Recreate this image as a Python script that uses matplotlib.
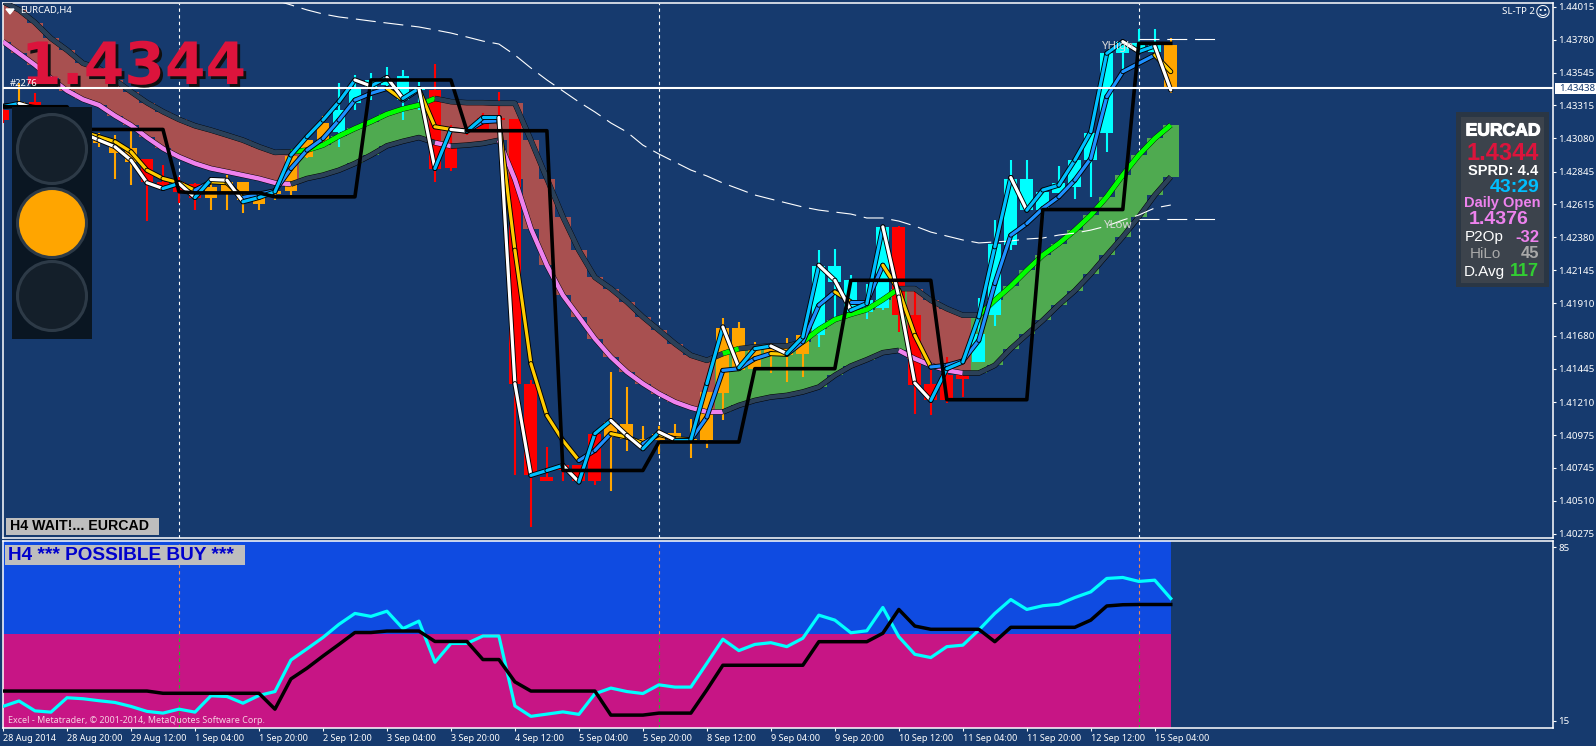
import numpy as np
import matplotlib
matplotlib.use("Agg")
import matplotlib.pyplot as plt
import matplotlib.patheffects as pe
from matplotlib.patches import Circle, Rectangle, Polygon

plt.rcParams["font.family"] = ["Noto Sans", "DejaVu Sans"]

# --- candles: high, low, body top, body bottom, colour code ---
high = [1.43300, 1.43471, 1.43400, 1.43250, 1.43210, 1.43170, 1.43116, 1.43104, 1.43135, 1.42931,
        1.42891, 1.42808, 1.42766, 1.42784, 1.42820, 1.42773, 1.42702, 1.42702, 1.42957, 1.43104,
        1.43239, 1.43471, 1.43530, 1.43547, 1.43589, 1.43566, 1.43483, 1.43608, 1.43175, 1.43163,
        1.43260, 1.43407, 1.43215, 1.41364, 1.40891, 1.40761, 1.40761, 1.40986, 1.41424, 1.41317,
        1.41044, 1.41044, 1.41052, 1.41092, 1.41282, 1.41809, 1.41779, 1.41637, 1.41632, 1.41667,
        1.41684, 1.42292, 1.42299, 1.42110, 1.42051, 1.42458, 1.42458, 1.42015, 1.41435, 1.41530,
        1.41400, 1.41950, 1.42500, 1.42926, 1.42926, 1.42730, 1.42884, 1.42926, 1.43120, 1.43684,
        1.43779, 1.43860, 1.43854, 1.43790]
low = [1.43190, 1.43258, 1.43150, 1.43100, 1.43050, 1.43000, 1.43021, 1.42796, 1.42749, 1.42495,
       1.42737, 1.42623, 1.42576, 1.42576, 1.42571, 1.42548, 1.42576, 1.42647, 1.42678, 1.42938,
       1.43057, 1.43021, 1.43281, 1.43352, 1.43430, 1.43210, 1.43281, 1.42773, 1.42851, 1.43104,
       1.43130, 1.43128, 1.40690, 1.40323, 1.40650, 1.40650, 1.40650, 1.40619, 1.40579, 1.40863,
       1.40879, 1.40844, 1.40938, 1.40813, 1.40884, 1.41080, 1.41440, 1.41435, 1.41417, 1.41353,
       1.41388, 1.41601, 1.41790, 1.41826, 1.41802, 1.41861, 1.41708, 1.41128, 1.41116, 1.41203,
       1.41246, 1.41494, 1.41748, 1.42287, 1.42571, 1.42520, 1.42690, 1.42654, 1.42666, 1.42986,
       1.43565, 1.43680, 1.43684, 1.43400]
body_top = [1.43281, 1.43340, 1.43341, 1.43220, 1.43180, 1.43140, 1.43097, 1.43045, 1.43009, 1.42931,
            1.42773, 1.42773, 1.42756, 1.42737, 1.42773, 1.42773, 1.42678, 1.42709, 1.42957, 1.43068,
            1.43187, 1.43281, 1.43428, 1.43495, 1.43495, 1.43523, 1.43447, 1.43424, 1.43026, 1.43140,
            1.43222, 1.43222, 1.43215, 1.41336, 1.40678, 1.40761, 1.40761, 1.40986, 1.41069, 1.41057,
            1.40950, 1.40986, 1.40990, 1.40950, 1.41282, 1.41738, 1.41738, 1.41578, 1.41590, 1.41613,
            1.41684, 1.42176, 1.42176, 1.42075, 1.41932, 1.42453, 1.42453, 1.41826, 1.41341, 1.41400,
            1.41400, 1.41696, 1.42330, 1.42796, 1.42792, 1.42702, 1.42761, 1.42926, 1.43120, 1.43684,
            1.43767, 1.43755, 1.43743, 1.43743]
body_bot = [1.43211, 1.43280, 1.43200, 1.43130, 1.43090, 1.43060, 1.43045, 1.42974, 1.42914, 1.42773,
            1.42749, 1.42702, 1.42661, 1.42657, 1.42690, 1.42647, 1.42614, 1.42685, 1.42709, 1.42950,
            1.43057, 1.43128, 1.43329, 1.43428, 1.43460, 1.43353, 1.43424, 1.42867, 1.42874, 1.43127,
            1.43139, 1.43210, 1.41341, 1.40690, 1.40650, 1.40725, 1.40650, 1.40650, 1.40962, 1.40950,
            1.40915, 1.40938, 1.40943, 1.40938, 1.40943, 1.41275, 1.41440, 1.41447, 1.41542, 1.41542,
            1.41554, 1.41684, 1.42063, 1.41850, 1.41850, 1.41880, 1.41826, 1.41329, 1.41227, 1.41227,
            1.41377, 1.41494, 1.41826, 1.42323, 1.42571, 1.42571, 1.42690, 1.42737, 1.42926, 1.43120,
            1.43684, 1.43708, 1.43696, 1.43436]
candle_codes = "ror" + "oooooo" + "rrrr" + "oooooooo" + "cccccc" + "r" * 11 + "o" * 13 + "ccccc" + "rrrrr" + "c" * 12 + "o"

# --- cloud between the two averages ---
band_top = [1.44051, 1.43992, 1.43902, 1.43790, 1.43707, 1.43613, 1.43577, 1.43494, 1.43412, 1.43334,
            1.43270, 1.43215, 1.43170, 1.43139, 1.43104, 1.43068, 1.43021, 1.42981, 1.42985, 1.42997,
            1.43033, 1.43097, 1.43151, 1.43199, 1.43253, 1.43290, 1.43317, 1.43364, 1.43341, 1.43334,
            1.43334, 1.43329, 1.43329, 1.43068, 1.42796, 1.42524, 1.42287, 1.42095, 1.42015, 1.41921,
            1.41814, 1.41720, 1.41625, 1.41542, 1.41506, 1.41554, 1.41589, 1.41601, 1.41608, 1.41608,
            1.41637, 1.41725, 1.41795, 1.41833, 1.41866, 1.41937, 1.42015, 1.42015, 1.41932, 1.41873,
            1.41826, 1.41826, 1.41932, 1.42032, 1.42145, 1.42252, 1.42335, 1.42429, 1.42536, 1.42666,
            1.42820, 1.42962, 1.43080, 1.43175]
band_bot = [1.43767, 1.43684, 1.43601, 1.43506, 1.43419, 1.43357, 1.43317, 1.43241, 1.43175, 1.43087,
            1.43009, 1.42950, 1.42903, 1.42867, 1.42844, 1.42820, 1.42796, 1.42765, 1.42756, 1.42796,
            1.42820, 1.42855, 1.42903, 1.42962, 1.43028, 1.43060, 1.43087, 1.43050, 1.43026, 1.43033,
            1.43045, 1.43068, 1.42790, 1.42441, 1.42181, 1.41968, 1.41815, 1.41660, 1.41530, 1.41424,
            1.41341, 1.41270, 1.41211, 1.41170, 1.41140, 1.41140, 1.41187, 1.41222, 1.41246, 1.41258,
            1.41282, 1.41317, 1.41400, 1.41466, 1.41511, 1.41561, 1.41577, 1.41518, 1.41471, 1.41435,
            1.41416, 1.41416, 1.41471, 1.41589, 1.41690, 1.41790, 1.41900, 1.42000, 1.42120, 1.42252,
            1.42382, 1.42524, 1.42678, 1.42808]
band_trend = "d" * 19 + "u" * 8 + "d" * 18 + "u" * 12 + "dddd" + "u" * 13
top_segments = [(0, 18, "#2B4058"), (18, 27, "#00FF00"), (27, 45, "#2B4058"), (45, 46, "#00FF00"),
                (46, 50, "#2B4058"), (50, 56, "#00FF00"), (56, 61, "#2B4058"), (61, 73, "#00FF00")]
bot_segments = [(0, 18, "#EE82EE"), (18, 27, "#2B4058"), (27, 28, "#EE82EE"), (28, 31, "#2B4058"),
                (31, 45, "#EE82EE"), (45, 56, "#2B4058"), (56, 60, "#EE82EE"), (60, 73, "#2B4058")]

# --- moving averages ---
fast_ma = [1.43305, 1.43329, 1.43293, 1.43250, 1.43180, 1.43116, 1.43068, 1.43021, 1.42926, 1.42766,
           1.42725, 1.42761, 1.42661, 1.42789, 1.42784, 1.42631, 1.42661, 1.42702, 1.42962, 1.43092,
           1.43210, 1.43341, 1.43495, 1.43452, 1.43513, 1.43364, 1.43435, 1.42867, 1.43144, 1.43132,
           1.43229, 1.43229, 1.41341, 1.40690, 1.40725, 1.40761, 1.40643, 1.40986, 1.41080, 1.40974,
           1.40879, 1.40998, 1.40943, 1.40943, 1.41341, 1.41743, 1.41454, 1.41589, 1.41608, 1.41554,
           1.41672, 1.42181, 1.42074, 1.41861, 1.41909, 1.42453, 1.41956, 1.41345, 1.41222, 1.41447,
           1.41495, 1.41814, 1.42311, 1.42803, 1.42571, 1.42714, 1.42749, 1.42926, 1.43128, 1.43684,
           1.43767, 1.43696, 1.43736, 1.43424]
slow_ma = [1.43310, 1.43317, 1.43300, 1.43270, 1.43230, 1.43127, 1.43092, 1.43057, 1.42986, 1.42855,
           1.42796, 1.42766, 1.42713, 1.42773, 1.42766, 1.42661, 1.42685, 1.42709, 1.42867, 1.42997,
           1.43080, 1.43210, 1.43352, 1.43400, 1.43435, 1.43353, 1.43428, 1.43163, 1.43144, 1.43132,
           1.43199, 1.43206, 1.42288, 1.41483, 1.41116, 1.40938, 1.40796, 1.40867, 1.40986, 1.40962,
           1.40915, 1.40981, 1.40950, 1.40943, 1.41104, 1.41435, 1.41447, 1.41518, 1.41554, 1.41549,
           1.41637, 1.41897, 1.41992, 1.41921, 1.41921, 1.42181, 1.42003, 1.41684, 1.41459, 1.41471,
           1.41502, 1.41648, 1.42051, 1.42394, 1.42477, 1.42583, 1.42666, 1.42784, 1.42938, 1.43376,
           1.43554, 1.43613, 1.43672, 1.43554]
step_line = [1.43305, 1.43305, 1.43305, 1.43305, 1.43305, 1.43144, 1.43144, 1.43144, 1.43144, 1.43144,
             1.43144, 1.42702, 1.42694, 1.42694, 1.42694, 1.42694, 1.42694, 1.42666, 1.42666, 1.42666,
             1.42666, 1.42666, 1.42666, 1.43495, 1.43495, 1.43495, 1.43495, 1.43495, 1.43495, 1.43135,
             1.43135, 1.43135, 1.43135, 1.43135, 1.43135, 1.40725, 1.40725, 1.40725, 1.40725, 1.40725,
             1.40725, 1.40927, 1.40927, 1.40927, 1.40927, 1.40927, 1.40927, 1.41447, 1.41447, 1.41447,
             1.41447, 1.41447, 1.41447, 1.42074, 1.42074, 1.42074, 1.42074, 1.42074, 1.42074, 1.41227,
             1.41227, 1.41227, 1.41227, 1.41227, 1.41227, 1.42576, 1.42576, 1.42576, 1.42576, 1.42576,
             1.42576, 1.43755, 1.43755, 1.43755]
long_ma_start = 17
long_ma = [1.44062, 1.44027, 1.43992, 1.43963, 1.43942, 1.43928, 1.43913, 1.43899, 1.43885, 1.43871,
           1.43850, 1.43828, 1.43800, 1.43771, 1.43750, 1.43672, 1.43580, 1.43495, 1.43417, 1.43339,
           1.43268, 1.43190, 1.43126, 1.43033, 1.42970, 1.42913, 1.42856, 1.42814, 1.42764, 1.42722,
           1.42679, 1.42650, 1.42622, 1.42594, 1.42572, 1.42558, 1.42544, 1.42516, 1.42516, 1.42494,
           1.42459, 1.42416, 1.42388, 1.42360, 1.42339, 1.42346, 1.42353, 1.42367, 1.42374, 1.42395,
           1.42409, 1.42430, 1.42459, 1.42501, 1.42537, 1.42587, 1.42608]

# --- lower pane ---
rsi_line = [20.8, 23.0, 19.0, 18.5, 24.3, 23.9, 23.1, 22.4, 20.8, 18.8, 18.1, 19.7, 18.5, 25.1, 24.8, 22.1,
            25.2, 26.8, 39.5, 44.0, 48.6, 53.9, 58.3, 57.1, 59.2, 52.2, 55.2, 38.6, 46.2, 46.2, 49.2, 49.2,
            21.0, 16.8, 17.7, 18.6, 17.6, 25.9, 28.2, 26.8, 26.0, 29.5, 28.6, 28.6, 38.2, 47.9, 43.3, 45.8,
            46.5, 44.9, 48.3, 57.6, 55.6, 50.5, 51.3, 60.7, 48.9, 41.8, 40.5, 44.9, 45.5, 51.6, 58.3, 63.9,
            59.9, 61.4, 62.0, 64.7, 67.0, 72.4, 72.8, 71.2, 71.7, 64.3]
signal_line = [27.0, 27.0, 27.0, 27.0, 27.0, 27.0, 27.0, 27.0, 27.0, 27.0, 26.1, 26.1, 26.1, 26.1, 26.1, 26.1,
               26.1, 19.7, 31.9, 36.2, 41.1, 45.8, 50.6, 50.6, 51.2, 51.2, 51.2, 47.0, 47.0, 47.0, 39.7, 39.7,
               30.7, 27.0, 27.0, 27.0, 27.0, 27.0, 17.3, 17.3, 17.3, 18.1, 18.1, 18.1, 27.5, 37.4, 37.4, 37.4,
               37.4, 37.4, 37.4, 46.9, 46.9, 46.9, 46.9, 50.3, 59.9, 53.2, 51.9, 51.9, 51.9, 51.9, 46.9, 52.7,
               52.7, 52.7, 52.7, 52.7, 55.6, 61.3, 61.8, 61.9, 61.9, 61.9]

price_ticks = [1.44015, 1.43780, 1.43545, 1.43315, 1.43080, 1.42845, 1.42615, 1.42380, 1.42145,
               1.41910, 1.41680, 1.41445, 1.41210, 1.40975, 1.40745, 1.40510, 1.40275]
time_ticks = list(range(0, 73, 4))
time_labels = ["28 Aug 2014", "28 Aug 20:00", "29 Aug 12:00", "1 Sep 04:00", "1 Sep 20:00", "2 Sep 12:00",
               "3 Sep 04:00", "3 Sep 20:00", "4 Sep 12:00", "5 Sep 04:00", "5 Sep 20:00", "8 Sep 12:00",
               "9 Sep 04:00", "9 Sep 20:00", "10 Sep 12:00", "11 Sep 04:00", "11 Sep 20:00", "12 Sep 12:00",
               "15 Sep 04:00"]
day_lines = [11, 41, 71]
last_price = 1.43438
yhigh = 1.43783
ylow = 1.42512

W, H = 1596, 746
BG = "#163A6E"
colors = {"o": "#FFA500", "r": "#FF0000", "c": "#00FFFF"}
idx = np.arange(74)


def pane(left, top, right, bottom):
    return fig.add_axes([left / W, 1 - bottom / H, (right - left) / W, (bottom - top) / H], facecolor=BG)


fig = plt.figure(figsize=(W / 100, H / 100), dpi=100, facecolor=BG)

ax = pane(3, 3, 1553, 538)
ax2 = pane(3, 541, 1553, 728)

x_max = (1553 - 2.7) / 16
for a in (ax, ax2):
    a.set_xlim(0, x_max)
    a.yaxis.tick_right()
    for s in a.spines.values():
        s.set_color("white")
        s.set_linewidth(1.1)
    a.tick_params(axis="y", colors="white", length=2.5, width=0.8, labelsize=7, pad=1.5)
    a.tick_params(axis="x", colors="white", length=2.5, width=0.8, labelsize=6.5, pad=2)

ax.set_ylim(1.40246, 1.44041)
ax2.set_ylim(12.1, 87.5)

# vertical day separators sit behind everything
ax.vlines(day_lines, 1.40246, 1.44041, colors="white", linewidth=0.8, linestyles=(0, (3, 3)), zorder=1)

# cloud
for trend, col in (("d", "#A85050"), ("u", "#4FAA50")):
    sel = [i for i in idx if band_trend[i] == trend]
    ax.bar(sel, [band_top[i] - band_bot[i] for i in sel], bottom=[band_bot[i] for i in sel],
           width=1.0, color=col, linewidth=0, zorder=2)

# candles
ax.vlines(idx, low, high, colors=[colors[c] for c in candle_codes], linewidth=1.5, zorder=3)
ax.bar(idx, np.array(body_top) - np.array(body_bot), bottom=body_bot, width=0.8,
       color=[colors[c] for c in candle_codes], linewidth=0, zorder=3)

edge = [pe.Stroke(linewidth=3.9, foreground="black"), pe.Normal()]
for a_, b_, col in top_segments:
    ax.plot(idx[a_:b_ + 1], band_top[a_:b_ + 1], color=col, linewidth=3.4, zorder=4,
            path_effects=edge, solid_capstyle="butt")
for a_, b_, col in bot_segments:
    ax.plot(idx[a_:b_ + 1], band_bot[a_:b_ + 1], color=col, linewidth=3.2, zorder=4,
            path_effects=edge, solid_capstyle="butt")

# long average + yearly levels
ax.plot(idx[long_ma_start:], long_ma, color="white", linewidth=0.8, linestyle=(0, (18, 7)), zorder=5)
ax.hlines([yhigh, ylow], 71, 76, colors="white", linewidth=0.8, linestyles=(0, (18, 7)), zorder=5)

# fast / slow averages change colour with direction
outline = [pe.Stroke(linewidth=3.6, foreground="black"), pe.Normal()]
for series, up, down, z in ((slow_ma, "#1E90FF", "#FFCC00", 6), (fast_ma, "#00BFFF", "#FFFFFF", 7)):
    for i in range(73):
        col = up if series[i + 1] >= series[i] else down
        ax.plot(idx[i:i + 2], series[i:i + 2], color=col, linewidth=2.3, zorder=z,
                path_effects=outline, solid_capstyle="round")

ax.plot(idx, step_line, color="black", linewidth=2.6, zorder=8)
ax.axhline(last_price, color="white", linewidth=1.5, zorder=9)

ax.set_xticks([])
ax.set_yticks(price_ticks)
ax.set_yticklabels(["%.5f" % p for p in price_ticks])

# lower pane
ax2.fill_between([0, 73], 50, 87.5, color="#0F4BE1", linewidth=0, zorder=1)
ax2.fill_between([0, 73], 12.1, 50, color="#C71585", linewidth=0, zorder=1)
ax2.vlines(day_lines, 50, 87.5, colors="#F08A50", linewidth=0.8, linestyles=(0, (3, 3)), zorder=2)
ax2.vlines(day_lines, 12.1, 50, colors="#22B822", linewidth=0.8, linestyles=(0, (3, 3)), zorder=2)
ax2.plot(idx, rsi_line, color="#00FFFF", linewidth=2.3, zorder=3)
ax2.plot(idx, signal_line, color="black", linewidth=2.5, zorder=4)
ax2.set_yticks([15, 85])
ax2.set_xticks(time_ticks)
ax2.set_xticklabels(time_labels, ha="left")

# overlay in pixels for the on-chart widgets
ov = fig.add_axes([0, 0, 1, 1], zorder=10)
ov.set_xlim(0, W)
ov.set_ylim(H, 0)
ov.axis("off")
ov.patch.set_alpha(0)

ov.add_patch(Polygon([(6, 9), (14, 9), (10, 14)], color="white"))
ov.text(20, 11, "EURCAD,H4", color="white", fontsize=6.8, va="center")
ov.text(21, 84, "1.4344", color="#DC143C", fontsize=42, fontweight="bold", family="DejaVu Sans", va="baseline",
        path_effects=[pe.withSimplePatchShadow(offset=(2, -2), shadow_rgbFace="#101010", alpha=1)], zorder=3)
ov.text(10, 83, "#2276", color="white", fontsize=6.8, va="center", zorder=4)

# traffic light
ov.add_patch(Rectangle((12, 107), 80, 232, color="#0A1622", linewidth=0))
for cy, col in ((149, "#141F2A"), (223, "#FFA500"), (296, "#141F2A")):
    ov.add_patch(Circle((52, cy), 34.5, facecolor=col, edgecolor="#2D3A47", linewidth=2.2))

# info box
ov.add_patch(Rectangle((1456, 112), 93, 175, color="#2A3644", linewidth=0))
ov.add_patch(Rectangle((1461, 117), 83, 166, color="#3C434C", linewidth=0))
bold = dict(family="Liberation Sans", fontweight="bold", va="center")
ov.text(1503, 131, "EURCAD", color="white", fontsize=12.6, ha="center", fontweight="bold",
        family="Liberation Sans", va="center",
        path_effects=[pe.Stroke(linewidth=0.8, foreground="white"), pe.Normal()])
ov.text(1503, 154, "1.4344", color="#DC143C", fontsize=17, ha="center", **bold)
ov.text(1503, 171, "SPRD: 4.4", color="white", fontsize=10.5, ha="center", **bold)
ov.text(1540, 187, "43:29", color="#00BFFF", fontsize=14, ha="right", **bold)
ov.text(1502, 203, "Daily Open", color="#EE82EE", fontsize=10.5, ha="center", **bold)
ov.text(1499, 220, "1.4376", color="#EE82EE", fontsize=14, ha="center", **bold)
plain = dict(family="Liberation Sans", va="center", fontsize=11)
ov.text(1465, 237, "P2Op", color="white", **plain)
ov.text(1539, 237, "-32", color="#EE82EE", fontsize=12, ha="right", **bold)
ov.text(1470, 254, "HiLo", color="#A9A9A9", **plain)
ov.text(1539, 254, "45", color="#A9A9A9", fontsize=12, ha="right", **bold)
ov.text(1464, 272, "D.Avg", color="white", **plain)
ov.text(1539, 272, "117", color="#32CD32", fontsize=13, ha="right", **bold)

ov.text(1535, 12, "SL-TP 2", color="white", fontsize=7, ha="right", va="center")
ov.text(1543, 12, "\u263a", color="white", fontsize=11, ha="center", va="center", family="DejaVu Sans")
ov.text(1118, 46, "YHigh", color="#D8D8D8", fontsize=8.3, ha="center", va="center")
ov.text(1118, 225, "YLow", color="#D8D8D8", fontsize=8.3, ha="center", va="center")

# last price tag
ov.add_patch(Rectangle((1555, 83), 41, 11, color="white", linewidth=0))
ov.text(1559, 88.5, "%.5f" % last_price, color="#163A6E", fontsize=7, va="center")

# status labels
ov.add_patch(Rectangle((6, 518), 153, 17, color="#BEBEBE", linewidth=0))
ov.text(10, 526.5, "H4 WAIT!... EURCAD", color="black", fontsize=10.2, **bold)
ov.add_patch(Rectangle((5, 545), 240, 20, color="#BEBEBE", linewidth=0))
ov.text(8, 555, "H4 *** POSSIBLE BUY ***", color="#0000CD", fontsize=13.7, **bold)
ov.text(8, 720.5, "Excel - Metatrader, \u00a9 2001-2014, MetaQuotes Software Corp.", color="#F6D0E2",
        fontsize=6.45, va="center")

fig.savefig("out.png", dpi=100, facecolor=BG)
